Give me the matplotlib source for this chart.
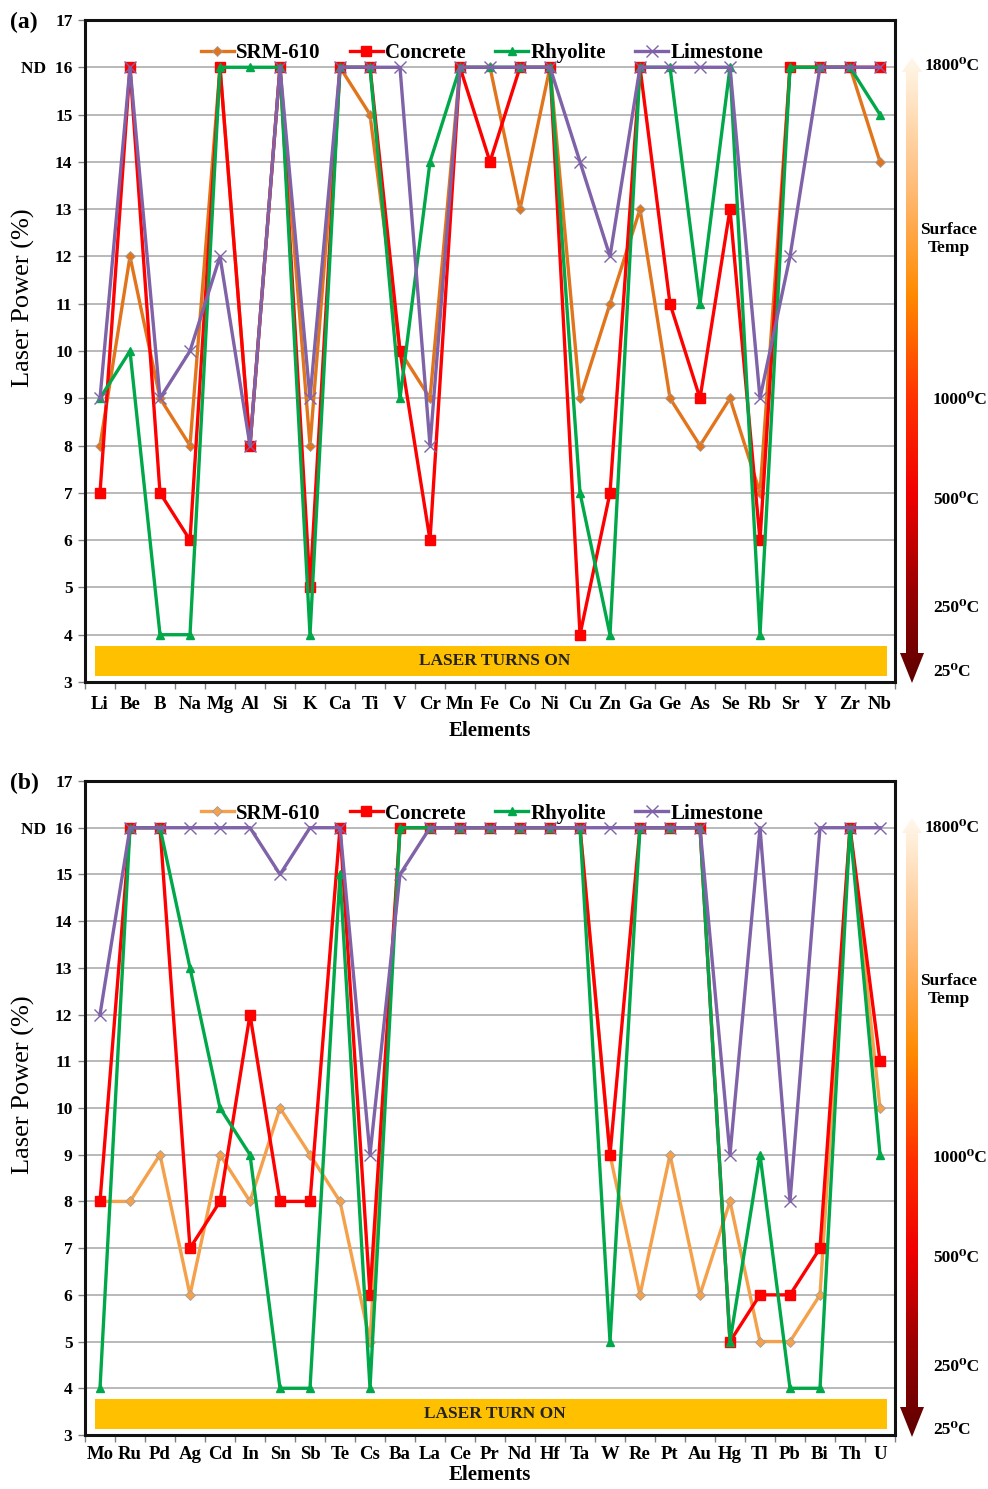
import matplotlib
matplotlib.use('Agg')
import matplotlib.pyplot as plt
import numpy as np
from matplotlib.colors import LinearSegmentedColormap
from matplotlib.patches import Rectangle, Polygon

# ---------------- data ----------------
elements_a = ['Li', 'Be', 'B', 'Na', 'Mg', 'Al', 'Si', 'K', 'Ca', 'Ti', 'V', 'Cr', 'Mn', 'Fe',
              'Co', 'Ni', 'Cu', 'Zn', 'Ga', 'Ge', 'As', 'Se', 'Rb', 'Sr', 'Y', 'Zr', 'Nb']
srm_a = [8, 12, 9, 8, 16, 8, 16, 8, 16, 15, 10, 9, 16, 16, 13, 16, 9, 11, 13, 9, 8, 9, 7, 16, 16, 16, 14]
concrete_a = [7, 16, 7, 6, 16, 8, 16, 5, 16, 16, 10, 6, 16, 14, 16, 16, 4, 7, 16, 11, 9, 13, 6, 16, 16, 16, 16]
rhyolite_a = [9, 10, 4, 4, 16, 16, 16, 4, 16, 16, 9, 14, 16, 16, 16, 16, 7, 4, 16, 16, 11, 16, 4, 16, 16, 16, 15]
limestone_a = [9, 16, 9, 10, 12, 8, 16, 9, 16, 16, 16, 8, 16, 16, 16, 16, 14, 12, 16, 16, 16, 16, 9, 12, 16, 16, 16]

elements_b = ['Mo', 'Ru', 'Pd', 'Ag', 'Cd', 'In', 'Sn', 'Sb', 'Te', 'Cs', 'Ba', 'La', 'Ce', 'Pr',
              'Nd', 'Hf', 'Ta', 'W', 'Re', 'Pt', 'Au', 'Hg', 'Tl', 'Pb', 'Bi', 'Th', 'U']
srm_b = [8, 8, 9, 6, 9, 8, 10, 9, 8, 5, 16, 16, 16, 16, 16, 16, 16, 9, 6, 9, 6, 8, 5, 5, 6, 16, 10]
concrete_b = [8, 16, 16, 7, 8, 12, 8, 8, 16, 6, 16, 16, 16, 16, 16, 16, 16, 9, 16, 16, 16, 5, 6, 6, 7, 16, 11]
rhyolite_b = [4, 16, 16, 13, 10, 9, 4, 4, 15, 4, 16, 16, 16, 16, 16, 16, 16, 5, 16, 16, 16, 5, 9, 4, 4, 16, 9]
limestone_b = [12, 16, 16, 16, 16, 16, 15, 16, 16, 9, 15, 16, 16, 16, 16, 16, 16, 16, 16, 16, 16, 9, 16, 8, 16, 16, 16]

series_names = ['SRM-610', 'Concrete', 'Rhyolite', 'Limestone']
y_ticks = list(range(3, 18))
y_ticklabels = [str(v) if v != 16 else 'ND  16' for v in y_ticks]
temp_labels = ['1800\u2070C', '1000\u2070C', '500\u2070C', '250\u2070C', '25\u2070C']

# ---------------- figure ----------------
W, H = 988, 1489
plt.rcParams['font.family'] = ['Liberation Serif', 'DejaVu Serif']
fig = plt.figure(figsize=(W / 100, H / 100), dpi=100)

cmap = LinearSegmentedColormap.from_list('temp', [
    (0.00, '#5E0000'), (0.15, '#9A0000'), (0.30, '#F00000'), (0.45, '#FF3000'),
    (0.62, '#FF8A00'), (0.78, '#FFB870'), (1.00, '#FFF8EC')])

red = '#FF0000'
green = '#00A84A'
purple = '#7F62A8'


def panel(rect_px, elements, data, srm_color, bar_text, tag, ylab_frac,
          arrow_px, label_py, tick_pad, xlab_pad):
    left, top, right, bottom = rect_px
    ax = fig.add_axes([left / W, 1 - bottom / H, (right - left) / W, (bottom - top) / H])
    x = np.arange(len(elements))
    srm, con, rhy, lim = data
    ax.plot(x, srm, color=srm_color, lw=2.4, marker='D', ms=5, mfc=srm_color,
            mec='#A0A0A0', mew=0.6, label=series_names[0], zorder=3)
    ax.plot(x, con, color=red, lw=2.4, marker='s', ms=7, mfc=red, mec=red,
            label=series_names[1], zorder=4)
    ax.plot(x, rhy, color=green, lw=2.4, marker='^', ms=6, mfc=green, mec=green,
            label=series_names[2], zorder=5)
    ax.plot(x, lim, color=purple, lw=2.4, marker='x', ms=8, mew=1.0, mec=purple,
            label=series_names[3], zorder=6)

    ax.set_xlim(-0.5, len(elements) - 0.5)
    ax.set_ylim(3, 17)
    ax.set_yticks(y_ticks)
    ax.set_yticklabels(y_ticklabels, fontsize=12.5, fontweight='bold')
    ax.set_xticks(x)
    ax.set_xticklabels(elements, fontsize=13.5, fontweight='bold')
    ax.set_xticks(np.arange(-0.5, len(elements)), minor=True)
    ax.tick_params(axis='x', which='major', length=0, pad=tick_pad)
    ax.tick_params(axis='x', which='minor', length=5, color='#808080', width=1)
    ax.tick_params(axis='y', which='major', length=5, color='#808080', width=1, pad=4)
    ax.grid(axis='y', color='#A6A6A6', lw=1.1, zorder=0)
    ax.set_axisbelow(True)
    for s in ax.spines.values():
        s.set_linewidth(2.2)
        s.set_color('#111111')

    ax.set_xlabel('Elements', fontsize=15, fontweight='bold', labelpad=xlab_pad)
    ax.set_ylabel('Laser Power (%)', fontsize=19)
    ax.yaxis.set_label_coords(-0.062, ylab_frac)

    bar = Rectangle((-0.17, 3.13), len(elements) - 0.6, 0.63, facecolor='#FFC000',
                    edgecolor='none', zorder=2)
    ax.add_patch(bar)
    ax.text((len(elements) - 1) / 2 + 0.15, 3.44, bar_text, ha='center', va='center',
            fontsize=12.5, fontweight='bold', color='#222222', zorder=7)

    ax.legend(loc='center', bbox_to_anchor=(0.49, 0.95), ncol=4, frameon=False,
              handlelength=1.6, handletextpad=0.1, columnspacing=1.4, numpoints=1,
              prop={'size': 15, 'weight': 'bold'})

    fig.text(10 / W, 1 - (top + 2) / H, tag, fontsize=17, fontweight='bold',
             ha='left', va='center')

    # temperature arrow
    a_top, a_bot = arrow_px
    x0, x1 = 896, 930
    cx = 912
    axA = fig.add_axes([x0 / W, 1 - (a_bot + 2) / H, (x1 - x0) / W, (a_bot - a_top + 4) / H])
    grad = np.linspace(1, 0, 256).reshape(-1, 1)
    im = axA.imshow(grad, cmap=cmap, extent=[x0, x1, a_bot, a_top], aspect='auto',
                    origin='upper')
    axA.set_xlim(x0, x1)
    axA.set_ylim(a_bot + 2, a_top - 2)
    axA.axis('off')
    pts = [(cx, a_top), (cx + 10, a_top + 15), (cx + 6, a_top + 15), (cx + 6, a_bot - 30),
           (cx + 12, a_bot - 30), (cx, a_bot), (cx - 12, a_bot - 30), (cx - 6, a_bot - 30),
           (cx - 6, a_top + 15), (cx - 10, a_top + 15)]
    poly = Polygon(pts, closed=True, facecolor='none', edgecolor='none',
                   transform=axA.transData)
    axA.add_patch(poly)
    im.set_clip_path(poly)

    ys = label_py
    fig.text(925 / W, 1 - ys[0] / H, temp_labels[0], fontsize=12.5, fontweight='bold',
             ha='left', va='center')
    fig.text(949 / W, 1 - ys[1] / H, 'Surface\nTemp', fontsize=12.5, fontweight='bold',
             ha='center', va='center', linespacing=1.2)
    for lab, yy in zip(temp_labels[1:], ys[2:]):
        fig.text(933 / W, 1 - yy / H, lab, fontsize=12.5, fontweight='bold',
                 ha='left', va='center')
    return ax


panel((85, 20, 895, 682), elements_a, (srm_a, concrete_a, rhyolite_a, limestone_a),
      '#E2741C', 'LASER TURNS ON', '(a)', 0.58, (57, 683),
      [66, 239, 400, 500, 608, 672], 10, 6)
panel((85, 781, 895, 1435), elements_b, (srm_b, concrete_b, rhyolite_b, limestone_b),
      '#F5A04A', 'LASER TURN ON', '(b)', 0.535, (818, 1437),
      [828, 990, 1158, 1258, 1367, 1430], 8, 1)

fig.savefig('out.png', dpi=100)
